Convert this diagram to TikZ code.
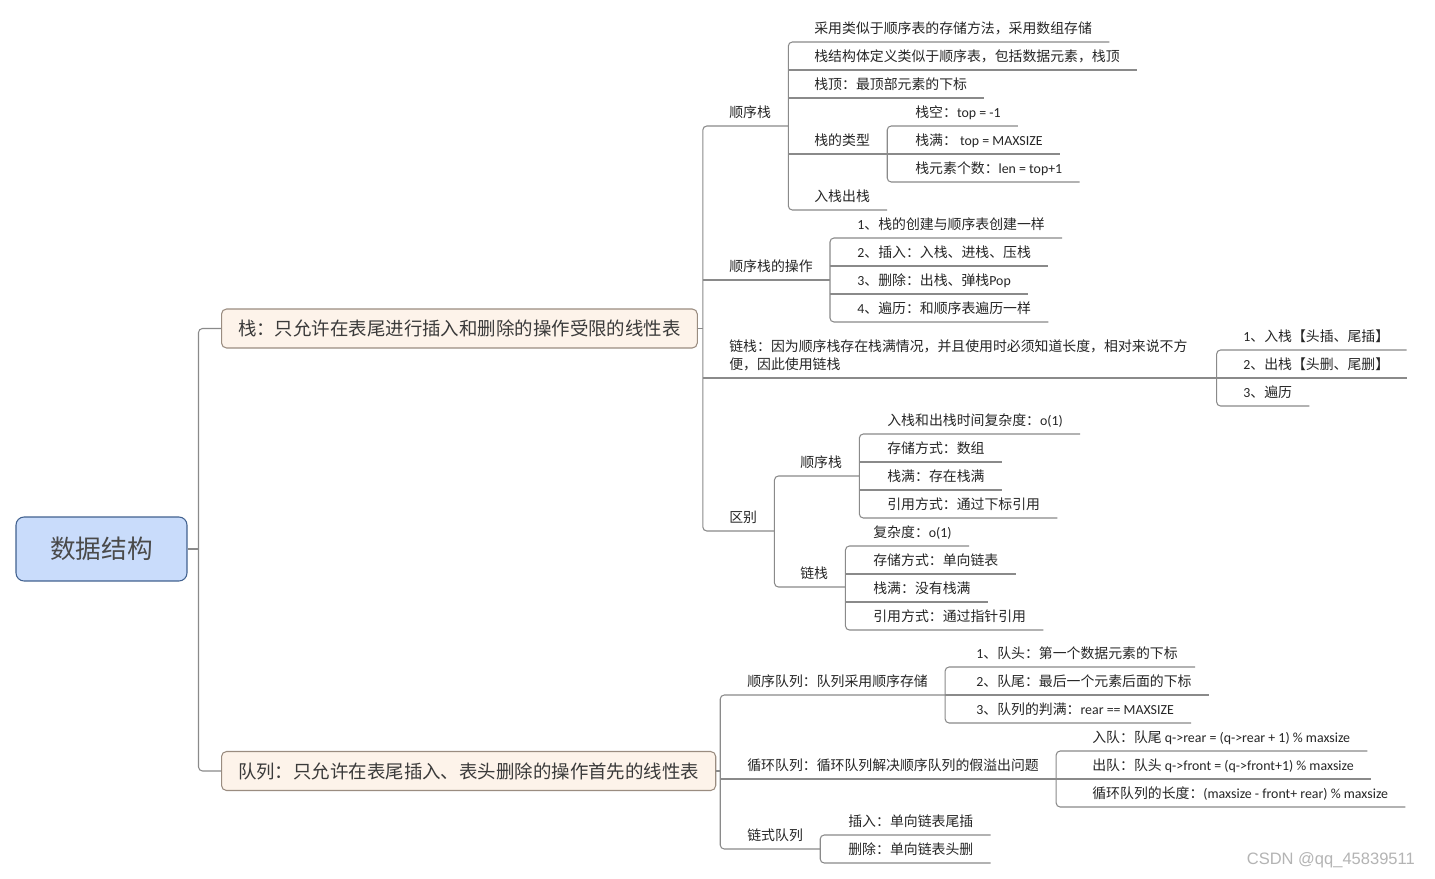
\documentclass[tikz,border=0pt]{standalone}
\usepackage{fontspec}
\setmainfont{Noto Sans CJK SC}
\newfontfamily\latinfont{Carlito}
\newfontfamily\markfont{Liberation Sans}
\newcommand\en[1]{{\latinfont #1}}
\usepackage{xcolor}
\usetikzlibrary{positioning}

\definecolor{rootfill}{HTML}{C9DCFB}
\definecolor{rootedge}{HTML}{41618F}
\definecolor{roottext}{HTML}{4A4A4A}
\definecolor{mainfill}{HTML}{FDF3EA}
\definecolor{mainedge}{HTML}{9A8C80}
\definecolor{maintext}{HTML}{3A3A3A}
\definecolor{leaftext}{HTML}{262626}
\definecolor{linegray}{HTML}{8A8A8A}
\definecolor{markgray}{HTML}{B4B4B4}

\begin{document}
\begin{tikzpicture}[
    x=0.02cm, y=-0.02cm,
    rootbox/.style={rectangle, draw=rootedge, fill=rootfill, rounded corners=0.16cm, line width=0.6pt, minimum width=3.42cm, minimum height=1.28cm, font=\fontsize{14.6}{16}\selectfont, text=roottext},
    mainbox/.style={rectangle, draw=mainedge, fill=mainfill, rounded corners=0.1cm, line width=0.6pt, minimum height=0.78cm, inner xsep=0.33cm, font=\fontsize{10.5}{12}\selectfont, text=maintext},
    topic/.style={anchor=south west, inner xsep=0.34cm, inner ysep=3.5pt, text depth=1pt, font=\fontsize{7.9}{10.2}\selectfont, text=leaftext},
    link/.style={draw=linegray, line width=0.6pt},
    elbow/.style={link, rounded corners=0.08cm}
]
\path[fill=white, use as bounding box] (0,0) rectangle (1435,878);

% Root and main branches
\node[rootbox] (root) at (101.5,549) {数据结构};
\node[mainbox, anchor=west] (stack) at (221,328.5) {栈：只允许在表尾进行插入和删除的操作受限的线性表};
\node[mainbox, anchor=west] (queue) at (221,771) {队列：只允许在表尾插入、表头删除的操作首先的线性表};

\draw[link] (root.east) -- ++(11,0) coordinate (rootj);
\draw[elbow] (stack.west) -| (rootj) |- (queue.west);

% Stack
\draw[link] (stack.east) -- ++(5,0) coordinate (stackj);
\node[topic] (seqst) at (712,126) {顺序栈};
\node[topic] (seqop) at (712,280) {顺序栈的操作};
\node[topic, align=left, text width=9.4cm, text depth=11.2pt] (linkst) at (712,378) {链栈：因为顺序栈存在栈满情况，并且使用时必须知道长度，相对来说不方\\便，因此使用链栈};
\node[topic] (diff) at (712,531) {区别};
\draw[elbow] (seqst.south east) -| (stackj) |- (diff.south east);
\foreach \t in {seqop,linkst} \draw[link] (stackj |- \t.south west) -- (\t.south east);

% Sequential stack
\node[topic] (sa) at (797,42) {采用类似于顺序表的存储方法，采用数组存储};
\node[topic] (sb) at (797,70) {栈结构体定义类似于顺序表，包括数据元素，栈顶};
\node[topic] (sc) at (797,98) {栈顶：最顶部元素的下标};
\node[topic] (stype) at (797,154) {栈的类型};
\node[topic] (spush) at (797,210) {入栈出栈};
\draw[elbow] (sa.south east) -| (seqst.south east) |- (spush.south east);
\foreach \t in {sb,sc,stype} \draw[link] (seqst.south east |- \t.south west) -- (\t.south east);

\node[topic] (empty) at (898,126) {栈空：\en{top = -1}};
\node[topic] (full) at (898,154) {栈满：\en{ top = MAXSIZE}};
\node[topic] (count) at (898,182) {栈元素个数：\en{len = top+1}};
\draw[elbow] (empty.south east) -| (stype.south east) |- (count.south east);
\draw[link] (stype.south east |- full.south west) -- (full.south east);

% Operations
\node[topic] (opa) at (840,238) {\en{1}、栈的创建与顺序表创建一样};
\node[topic] (opb) at (840,266) {\en{2}、插入：入栈、进栈、压栈};
\node[topic] (opc) at (840,294) {\en{3}、删除：出栈、弹栈\en{Pop}};
\node[topic] (opd) at (840,322) {\en{4}、遍历：和顺序表遍历一样};
\draw[elbow] (opa.south east) -| (seqop.south east) |- (opd.south east);
\foreach \t in {opb,opc} \draw[link] (seqop.south east |- \t.south west) -- (\t.south east);

% Linked stack
\node[topic] (lka) at (1226,350) {\en{1}、入栈【头插、尾插】};
\node[topic] (lkb) at (1226,378) {\en{2}、出栈【头删、尾删】};
\node[topic] (lkc) at (1226,406) {\en{3}、遍历};
\draw[elbow] (lka.south east) -| (linkst.south east) |- (lkc.south east);
\draw[link] (linkst.south east |- lkb.south west) -- (lkb.south east);

% Differences
\node[topic] (dseq) at (783,476) {顺序栈};
\node[topic] (dlink) at (783,587) {链栈};
\draw[elbow] (dseq.south east) -| (diff.south east) |- (dlink.south east);

\node[topic] (ea) at (870,434) {入栈和出栈时间复杂度：\en{o(1)}};
\node[topic] (eb) at (870,462) {存储方式：数组};
\node[topic] (ec) at (870,490) {栈满：存在栈满};
\node[topic] (ed) at (870,518) {引用方式：通过下标引用};
\draw[elbow] (ea.south east) -| (dseq.south east) |- (ed.south east);
\foreach \t in {eb,ec} \draw[link] (dseq.south east |- \t.south west) -- (\t.south east);

\node[topic] (fa) at (856,546) {复杂度：\en{o(1)}};
\node[topic] (fb) at (856,574) {存储方式：单向链表};
\node[topic] (fc) at (856,602) {栈满：没有栈满};
\node[topic] (fd) at (856,630) {引用方式：通过指针引用};
\draw[elbow] (fa.south east) -| (dlink.south east) |- (fd.south east);
\foreach \t in {fb,fc} \draw[link] (dlink.south east |- \t.south west) -- (\t.south east);

% Queue
\draw[link] (queue.east) -- ++(4,0) coordinate (queuej);
\node[topic] (seqq) at (730,695) {顺序队列：队列采用顺序存储};
\node[topic] (cirq) at (730,779) {循环队列：循环队列解决顺序队列的假溢出问题};
\node[topic] (linkq) at (730,849) {链式队列};
\draw[elbow] (seqq.south east) -| (queuej) |- (linkq.south east);
\draw[link] (queuej |- cirq.south west) -- (cirq.south east);

\node[topic] (ra) at (959,667) {\en{1}、队头：第一个数据元素的下标};
\node[topic] (rb) at (959,695) {\en{2}、队尾：最后一个元素后面的下标};
\node[topic] (rc) at (959,723) {\en{3}、队列的判满：\en{rear == MAXSIZE}};
\draw[elbow] (ra.south east) -| (seqq.south east) |- (rc.south east);
\draw[link] (seqq.south east |- rb.south west) -- (rb.south east);

\node[topic] (ua) at (1075,751) {入队：队尾 \en{q->rear = (q->rear + 1) \% maxsize}};
\node[topic] (ub) at (1075,779) {出队：队头 \en{q->front = (q->front+1) \% maxsize}};
\node[topic] (uc) at (1075,807) {循环队列的长度：\en{(maxsize - front+ rear) \% maxsize}};
\draw[elbow] (ua.south east) -| (cirq.south east) |- (uc.south east);
\draw[link] (cirq.south east |- ub.south west) -- (ub.south east);

\node[topic] (va) at (831,835) {插入：单向链表尾插};
\node[topic] (vb) at (831,863) {删除：单向链表头删};
\draw[elbow] (va.south east) -| (linkq.south east) |- (vb.south east);

\node[anchor=east, font=\markfont\fontsize{9.4}{10}\selectfont, text=markgray] (mark) at (1421,860) {CSDN @qq\_45839511};
\end{tikzpicture}
\end{document}
